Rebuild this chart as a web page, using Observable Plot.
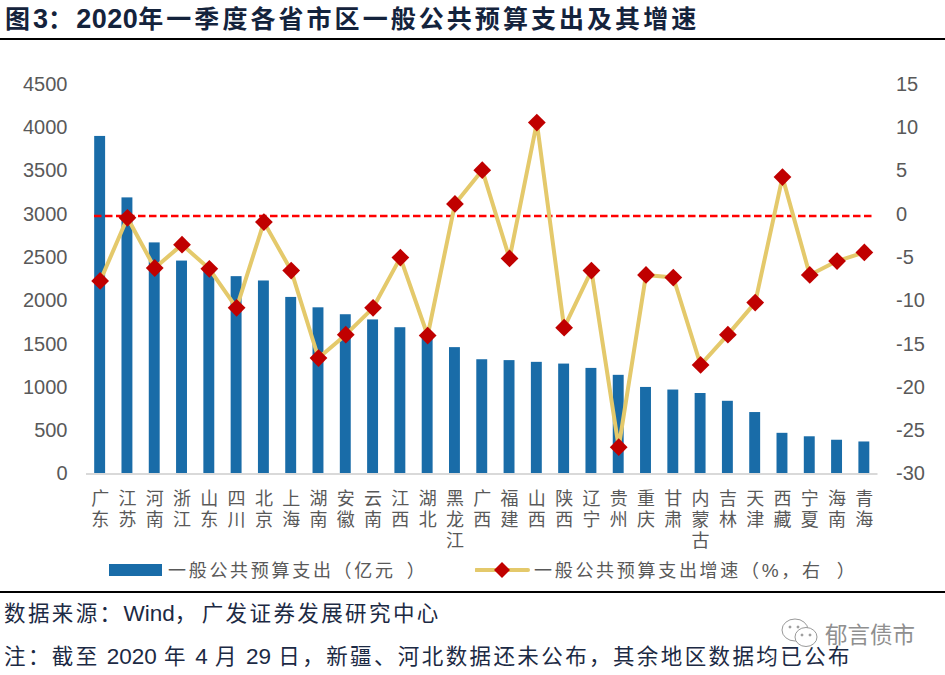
<!DOCTYPE html>
<html><head><meta charset="utf-8">
<script src="https://cdn.jsdelivr.net/npm/d3@7"></script>
<script src="https://cdn.jsdelivr.net/npm/@observablehq/plot@0.6"></script>
<style>
html,body{margin:0;padding:0;background:#fff;}
#page{position:relative;width:945px;height:675px;overflow:hidden;font-family:"Noto Sans CJK SC","Noto Sans",sans-serif;}
.abs{position:absolute;white-space:nowrap;}
#chart{position:absolute;left:0;top:40px;}
.hr{position:absolute;left:0;width:945px;background:#000;}
.lat{font-family:"Liberation Sans";font-size:22.5px;letter-spacing:0;}
g[aria-label="x-axis tick label"] text{writing-mode:vertical-rl;text-anchor:start;letter-spacing:3px;}
</style></head><body>
<div id="page">
<div class="abs" id="title" style="left:5px;top:-1px;font-size:25px;font-weight:700;color:#14233c;line-height:36px;letter-spacing:3.05px;">图<span style="font-family:'Liberation Sans';font-size:27px;letter-spacing:0">3</span>：<span style="font-family:'Liberation Sans';font-size:27px;letter-spacing:0.5px;">2020</span>年一季度各省市区一般公共预算支出及其增速</div>
<div class="hr" style="top:38px;height:2px;"></div>
<div id="chart"></div>
<div class="abs" style="left:109px;top:564px;width:53px;height:12px;background:#196ca8;"></div>
<div class="abs" style="left:168px;top:556px;font-size:18px;line-height:26px;color:#595959;letter-spacing:2.7px;">一般公共预算支出（亿元<span style="margin-left:11px">）</span></div>
<svg class="abs" style="left:475px;top:558px;" width="56" height="24"><line x1="1" y1="12" x2="53" y2="12" stroke="#e4c96b" stroke-width="4" stroke-linecap="round"/><path d="M27 4 L35 12 L27 20 L19 12 Z" fill="#c00000"/></svg>
<div class="abs" style="left:534px;top:556px;font-size:18px;line-height:26px;color:#595959;letter-spacing:2.7px;">一般公共预算支出增速（<span style="font-family:'Liberation Sans';font-size:19px">%</span>，右<span style="margin-left:14px">）</span></div>
<div class="hr" style="top:591px;height:2px;"></div>
<div class="abs" style="left:4px;top:597px;font-size:21.5px;line-height:30px;color:#1c2a44;letter-spacing:2.4px;">数据来源：<span class="lat">Wind</span><span style="margin-right:3px">，</span>广发证券发展研究中心</div>
<div class="abs" style="left:4px;top:640px;font-size:21.5px;line-height:30px;color:#1c2a44;letter-spacing:2.4px;">注：截至 <span class="lat">2020</span> 年 <span class="lat">4</span> 月 <span class="lat">29</span> 日，新疆、河北数据还未公布，其余地区数据均已公布</div>
<svg class="abs" style="left:780px;top:616px;" width="42" height="34" fill="#fff" stroke="#999" stroke-width="1"><ellipse cx="15" cy="14" rx="13" ry="11"/><ellipse cx="26" cy="21" rx="11" ry="9.5"/><circle cx="10" cy="11" r="1" fill="#999"/><circle cx="18" cy="11" r="1" fill="#999"/><circle cx="22" cy="19" r="1" fill="#999"/><circle cx="30" cy="19" r="1" fill="#999"/></svg>
<div class="abs" style="left:825px;top:618px;font-size:22.5px;line-height:30px;color:#8f8f8f;">郁言债市</div>
</div>
<script>
const provinces = ["广东","江苏","河南","浙江","山东","四川","北京","上海","湖南","安徽","云南","江西","湖北","黑龙江","广西","福建","山西","陕西","辽宁","贵州","重庆","甘肃","内蒙古","吉林","天津","西藏","宁夏","海南","青海"];
const spending = [3900,3190,2670,2460,2380,2280,2230,2040,1920,1840,1780,1690,1600,1460,1320,1310,1290,1270,1220,1140,1000,970,930,840,710,470,430,390,370];
const growth = [-7.7,-0.4,-6.2,-3.5,-6.3,-10.8,-0.9,-6.5,-16.6,-13.9,-10.8,-5.0,-14.0,1.2,5.1,-5.1,10.6,-13.1,-6.5,-26.9,-7.0,-7.3,-17.4,-13.9,-10.2,4.3,-7.0,-5.4,-4.4];
const leftTicks = [0,500,1000,1500,2000,2500,3000,3500,4000,4500];
const rightTicks = [-30,-25,-20,-15,-10,-5,0,5,10,15];

// Right-hand axis (-30…15) is aligned onto the left-hand y scale (0…4500).
const toLeft = g => (g + 30) * 100;
const rows = provinces.map((p,i)=>({p, s:spending[i], g:growth[i]}));

const plot = Plot.plot({
  width:945, height:550,
  marginLeft:86, marginRight:67.5, marginTop:44, marginBottom:116.5,
  style:{background:"transparent",overflow:"visible"},
  x:{type:"band",domain:provinces,paddingInner:0.6,paddingOuter:0.3,round:false,label:null},
  y:{domain:[0,4500],label:null},
  marks:[
    Plot.barY(rows,{x:"p",y:"s",fill:"#196ca8"}),
    Plot.ruleY([0],{stroke:"#d9d9d9",strokeWidth:2}),
    Plot.ruleY([toLeft(0)],{stroke:"#ff0000",strokeWidth:2.6,strokeDasharray:"7.5 3.5",insetLeft:8,insetRight:4,dy:1.7}),
    Plot.line(rows,{x:"p",y:d=>toLeft(d.g),stroke:"#e4c96b",strokeWidth:4,curve:"linear"}),
    Plot.dot(rows,{x:"p",y:d=>toLeft(d.g),symbol:"diamond2",r:8,fill:"#c00000",stroke:"none"}),
    Plot.axisY({anchor:"left",ticks:leftTicks,tickSize:0,tickPadding:19,label:null,fontSize:20,fontFamily:"Liberation Sans",color:"#595959",tickFormat:d=>String(d)}),
    Plot.axisY({anchor:"right",ticks:rightTicks.map(toLeft),tickSize:0,tickPadding:18,label:null,fontSize:20,fontFamily:"Liberation Sans",color:"#595959",tickFormat:d=>String(d/100-30)}),
    Plot.axisX({anchor:"bottom",tickSize:0,tickPadding:2,label:null,fontSize:18,color:"#595959",lineAnchor:"top",fontFamily:"Noto Sans CJK SC",tickFormat:d=>d})
  ]
});
document.getElementById("chart").appendChild(plot);
</script>
</body></html>
